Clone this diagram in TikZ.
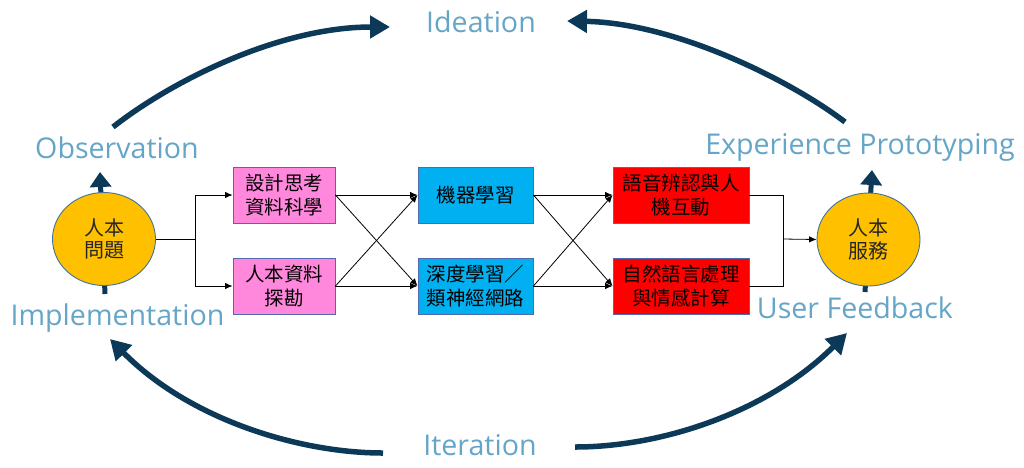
\documentclass[tikz,border=0pt]{standalone}
\usepackage{fontspec}
\setmainfont{Open Sans}
\newfontfamily\cjk{Noto Sans CJK TC}
\usetikzlibrary{arrows.meta,shapes.geometric}
\definecolor{navy}{RGB}{12,57,88}
\definecolor{lblue}{RGB}{100,165,200}
\definecolor{hubfill}{RGB}{255,192,0}
\definecolor{hubline}{RGB}{65,113,156}
\definecolor{boxline}{RGB}{80,105,175}
\definecolor{pinkfill}{RGB}{255,136,221}
\definecolor{bluefill}{RGB}{0,176,240}
\definecolor{redfill}{RGB}{255,0,0}
\begin{document}
\begin{tikzpicture}[x=1pt,y=-1pt,
  lbl/.style={anchor=base,text=lblue,font=\fontsize{28.6}{32}\selectfont,inner sep=0},
  box/.style={draw=boxline,line width=0.9pt,minimum height=56pt,align=center,inner sep=0,font=\cjk\fontsize{19.5}{24}\selectfont},
  pinkbox/.style={box,fill=pinkfill,minimum width=102pt},
  bluebox/.style={box,fill=bluefill,minimum width=115pt},
  redbox/.style={box,fill=redfill,minimum width=136pt},
  hub/.style={ellipse,draw=hubline,fill=hubfill,line width=0.9pt,minimum width=103pt,minimum height=93pt,inner sep=0,align=center,font=\cjk\fontsize{20}{22.5}\selectfont,text=black!85},
  conn/.style={line width=0.8pt,-{Latex[length=7.5pt,width=6.5pt]}},
  plainline/.style={line width=0.8pt},
  loopArc/.style={navy,line width=5.5pt,-{Triangle[length=20pt,width=22pt]}},
  riseArrow/.style={navy,line width=5pt,-{Triangle[length=15pt,width=21pt]}}]
\useasboundingbox (0,0) rectangle (1024,467);

% vertical arrows behind hubs
\coordinate (lb) at (105,294);
\coordinate (lt) at (100,172);
\coordinate (rb) at (865,292);
\coordinate (rt) at (872,170);
\draw[riseArrow] (lb) -- (lt);
\draw[riseArrow] (rb) -- (rt);

% hubs
\node[hub] (q) at (104,239) {人本\\問題};
\node[hub] (s) at (868.5,239.5) {人本\\服務};

% boxes
\node[pinkbox] (p1) at (284,195) {設計思考\\資料科學};
\node[pinkbox] (p2) at (284,286) {人本資料\\探勘};
\node[bluebox] (b1) at (475.5,195) {機器學習};
\node[bluebox] (b2) at (475.5,286) {深度學習／\\類神經網路};
\node[redbox] (r1) at (681,195) {語音辨認與人\\機互動};
\node[redbox] (r2) at (681,286) {自然語言處理\\與情感計算};

% connectors
\coordinate (jl) at (195,239);
\coordinate (jr) at (783,239);
\draw[plainline] (q.east) -- (jl);
\draw[conn] (jl) |- (p1.west);
\draw[conn] (jl) |- (p2.west);
\draw[conn] (p1.east) -- (b1.west);
\draw[conn] (p1.east) -- (b2.west);
\draw[conn] (p2.east) -- (b1.west);
\draw[conn] (p2.east) -- (b2.west);
\draw[conn] (b1.east) -- (r1.west);
\draw[conn] (b1.east) -- (r2.west);
\draw[conn] (b2.east) -- (r1.west);
\draw[conn] (b2.east) -- (r2.west);
\draw[plainline] (r1.east) -| (jr);
\draw[plainline] (r2.east) -| (jr);
\draw[conn] (jr) -- (s.west);

% labels
\node[lbl] (ide) at (481,32) {Ideation};
\node[lbl] (obs) at (117,158) {Observation};
\node[lbl] (exp) at (860,154) {Experience Prototyping};
\node[lbl] (imp) at (117.5,325) {Implementation};
\node[lbl] (usr) at (855,318) {User Feedback};
\node[lbl] (itr) at (480,455) {Iteration};

% cycle arcs
\coordinate (a1s) at (113,127);
\coordinate (a1e) at (390,27);
\coordinate (a2s) at (845,122);
\coordinate (a2e) at (567,21);
\coordinate (a3s) at (383,453);
\coordinate (a3e) at (110,339);
\coordinate (a4s) at (575,447);
\coordinate (a4e) at (847,333);
\draw[loopArc] (a1s) .. controls (173,80) and (280,27) .. (a1e);
\draw[loopArc] (a2s) .. controls (790,80) and (675,23) .. (a2e);
\draw[loopArc] (a3s) .. controls (300,453) and (190,420) .. (a3e);
\draw[loopArc] (a4s) .. controls (665,447) and (770,410) .. (a4e);
\end{tikzpicture}
\end{document}
